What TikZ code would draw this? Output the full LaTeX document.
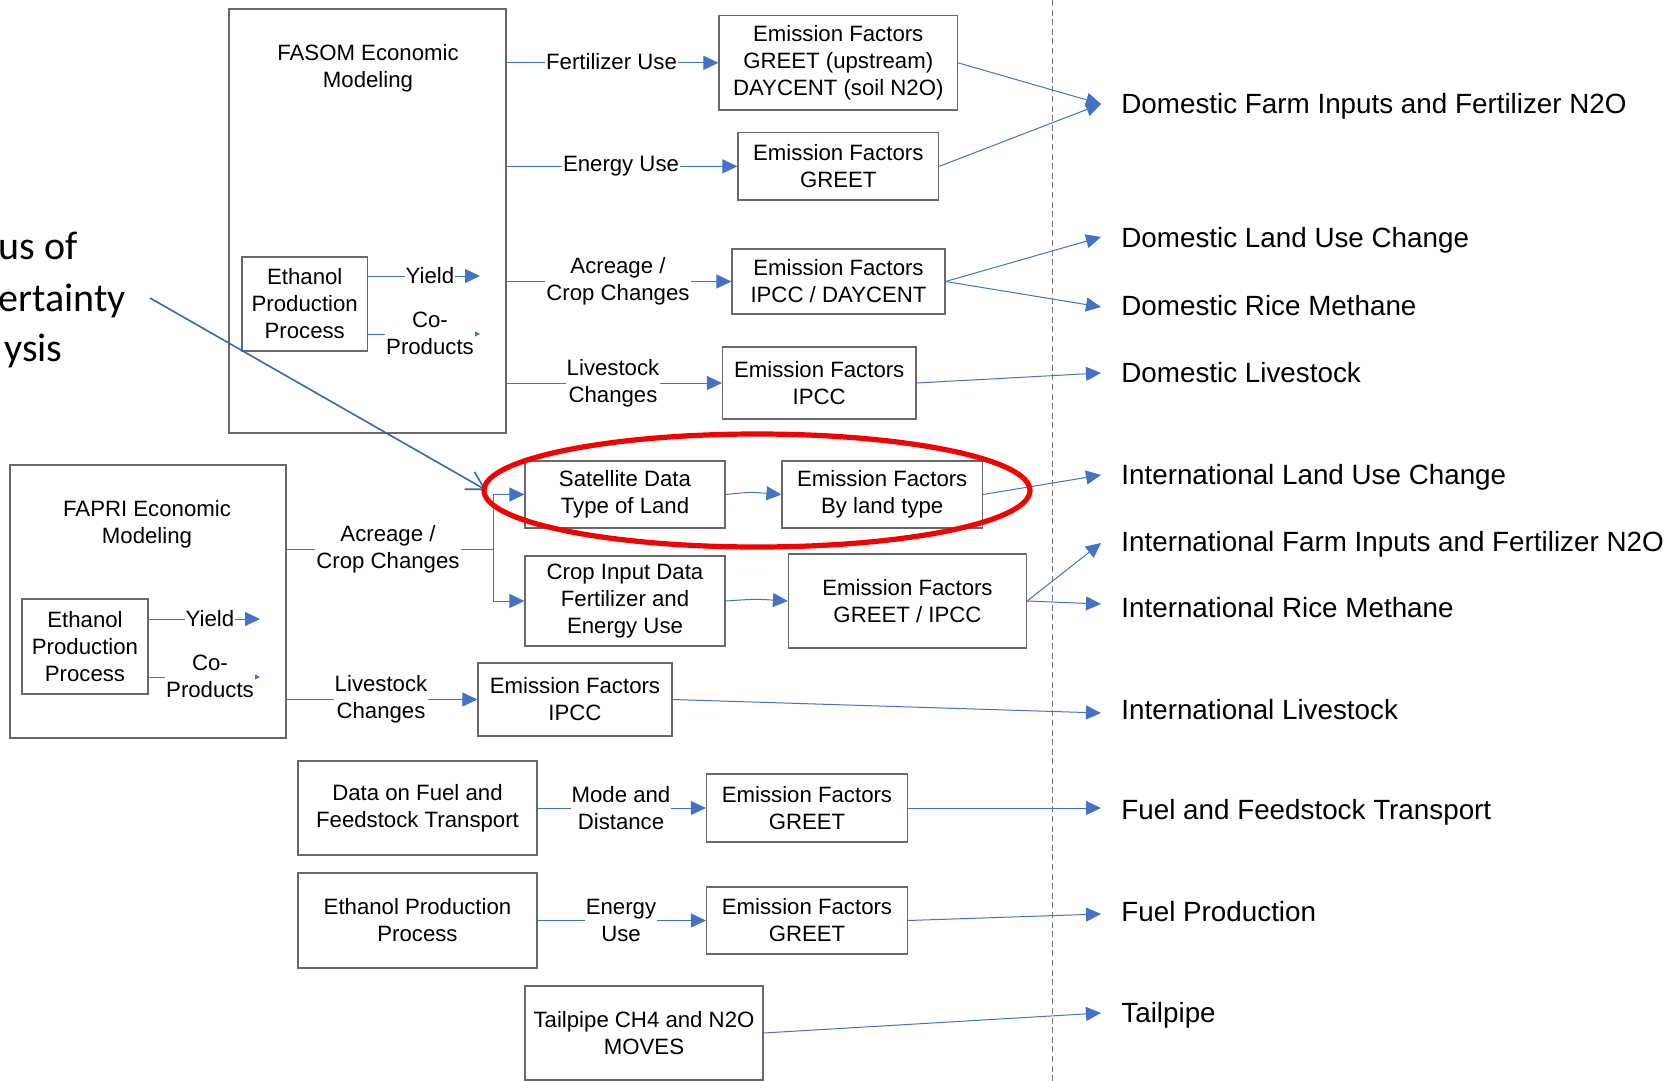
\documentclass[tikz,border=0pt]{standalone}
\usepackage{fontspec}
\setmainfont{Liberation Sans}
\newfontfamily\calloutfnt{Carlito}
\usetikzlibrary{arrows.meta}
\definecolor{conblue}{RGB}{68,114,196}
\definecolor{callblue}{RGB}{50,105,180}
\definecolor{boxgray}{RGB}{105,105,105}
\definecolor{dashgray}{RGB}{120,120,120}
\definecolor{ovalred}{RGB}{245,0,0}
\newcommand\boxfnt{\fontsize{11.1pt}{13.5pt}\selectfont}
\newcommand\outfnt{\fontsize{13.9pt}{16pt}\selectfont}
\newcommand\callfnt{\calloutfnt\fontsize{20pt}{25pt}\selectfont}
\begin{document}
\begin{tikzpicture}[x=0.5pt,y=-0.5pt,
  box/.style={draw=boxgray, line width=0.6pt, align=center, inner sep=0pt, font=\boxfnt},
  conn/.style={draw=conblue, line width=0.5pt},
  arr/.style={draw=conblue, line width=0.5pt, -{Triangle[length=7.5pt,width=7pt]}},
  smallarr/.style={draw=conblue, line width=0.5pt, -{Triangle[length=3pt,width=3pt]}},
  lbl/.style={fill=white, inner sep=0.5pt, align=center, font=\boxfnt},
  plain/.style={inner sep=0pt, align=center, font=\boxfnt},
  outlbl/.style={anchor=base west, inner sep=0pt, font=\outfnt},
  calltxt/.style={anchor=base east, inner sep=0pt, font=\callfnt}]
\useasboundingbox (0,0) rectangle (1677,1081);
\fill[white] (0,0) rectangle (1677,1081);

% dashed separator
\coordinate (dtop) at (1052,0);
\coordinate (dbot) at (1052,1081);
\draw[dashgray, line width=0.5pt, dash pattern=on 3pt off 1.8pt] (dtop) -- (dbot);

% callout text
\node[calltxt] (c1) at (78,259) {us of};
\node[calltxt] (c2) at (126,311) {ertainty};
\node[calltxt] (c3) at (63,361) {ysis};

% FASOM block
\node[box, minimum width=138.5pt, minimum height=212pt] (fasom) at (367.5,221) {};
\node[plain] (fasomtxt) at (368,68.5) {FASOM Economic\\Modeling};
\node[box, minimum width=62.75pt, minimum height=47pt] (eth1) at (304.75,304) {Ethanol\\Production\\Process};
\coordinate (y1tip) at (480,276);
\coordinate (c1tip) at (480,334);
\draw[arr] (eth1.east |- y1tip) -- (y1tip);
\draw[smallarr] (eth1.east |- c1tip) -- (c1tip);
\node[lbl] (yield1) at (430,276) {Yield};
\node[lbl] (cop1) at (430,333.5) {Co-\\Products};

\node[box, minimum width=119.25pt, minimum height=47.15pt] (ef1) at (838.25,62.85) {Emission Factors\\GREET (upstream)\\DAYCENT (soil N2O)};
\node[box, minimum width=100.3pt, minimum height=33.65pt] (ef2) at (838.3,166.35) {Emission Factors\\GREET};
\node[box, minimum width=106.5pt, minimum height=32.5pt] (ef3) at (838.5,281.5) {Emission Factors\\IPCC / DAYCENT};
\node[box, minimum width=96.75pt, minimum height=36pt] (ef4) at (819.25,383) {Emission Factors\\IPCC};

\draw[arr] (fasom.east |- ef1.west) -- (ef1.west);
\draw[arr] (fasom.east |- ef2.west) -- (ef2.west);
\draw[arr] (fasom.east |- ef3.west) -- (ef3.west);
\draw[arr] (fasom.east |- ef4.west) -- (ef4.west);
\node[lbl] (l1) at (611.5,61.5) {Fertilizer Use};
\node[lbl] (l2) at (621,166.35) {Energy Use};
\node[lbl] (l3) at (618,281.5) {Acreage /\\Crop Changes};
\node[lbl] (l4) at (613,383) {Livestock\\Changes};

% FAPRI block
\node[box, minimum width=138pt, minimum height=136.5pt] (fapri) at (148,601.5) {};
\node[plain] (fapritxt) at (147,524.5) {FAPRI Economic\\Modeling};
\node[box, minimum width=63pt, minimum height=47.5pt] (eth2) at (85,646.5) {Ethanol\\Production\\Process};
\coordinate (y2tip) at (260,619);
\coordinate (c2tip) at (260,677);
\draw[arr] (eth2.east |- y2tip) -- (y2tip);
\draw[smallarr] (eth2.east |- c2tip) -- (c2tip);
\node[lbl] (yield2) at (210,619) {Yield};
\node[lbl] (cop2) at (210,676.5) {Co-\\Products};

\node[box, minimum width=100pt, minimum height=33.5pt] (sat) at (625,494.5) {Satellite Data\\Type of Land};
\node[box, minimum width=100.25pt, minimum height=33.5pt] (efland) at (882.25,494.5) {Emission Factors\\By land type};
\node[box, minimum width=100pt, minimum height=45pt] (cropin) at (625,601) {Crop Input Data\\Fertilizer and\\Energy Use};
\node[box, minimum width=119pt, minimum height=47pt] (efgi) at (907.5,601) {Emission Factors\\GREET / IPCC};
\node[box, minimum width=97pt, minimum height=36.5pt] (ef5) at (575,699.5) {Emission Factors\\IPCC};

\coordinate (split) at (493,549);
\draw[conn] (fapri.east |- split) -- (split);
\draw[arr] (split) |- (sat.west);
\draw[arr] (split) |- (cropin.west);
\draw[arr] (sat.east) .. controls (750,492) .. (efland.west);
\draw[arr] (cropin.east) .. controls (755,599) .. (efgi.west);
\draw[arr] (fapri.east |- ef5.west) -- (ef5.west);
\node[lbl] (l5) at (388,549) {Acreage /\\Crop Changes};
\node[lbl] (l6) at (381,699.5) {Livestock\\Changes};

% transport / production / tailpipe
\node[box, minimum width=119.5pt, minimum height=47pt] (fuel) at (417.5,808) {Data on Fuel and\\Feedstock Transport};
\node[box, minimum width=100.5pt, minimum height=34pt] (ef6) at (807,808) {Emission Factors\\GREET};
\node[box, minimum width=119.5pt, minimum height=47.5pt] (ethp) at (417.5,920.5) {Ethanol Production\\Process};
\node[box, minimum width=100.5pt, minimum height=33.5pt] (ef7) at (807,920.5) {Emission Factors\\GREET};
\node[box, minimum width=119pt, minimum height=47pt] (tail) at (644,1033) {Tailpipe CH4 and N2O\\MOVES};
\draw[arr] (fuel.east) -- (ef6.west);
\draw[arr] (ethp.east) -- (ef7.west);
\node[lbl] (l7) at (621,808) {Mode and\\Distance};
\node[lbl] (l8) at (621,920.5) {Energy\\Use};

% output labels
\node[outlbl] (o1) at (1121,114) {Domestic Farm Inputs and Fertilizer N2O};
\node[outlbl] (o2) at (1121,248) {Domestic Land Use Change};
\node[outlbl] (o3) at (1121,315) {Domestic Rice Methane};
\node[outlbl] (o4) at (1121,382.5) {Domestic Livestock};
\node[outlbl] (o5) at (1121,484.5) {International Land Use Change};
\node[outlbl] (o6) at (1121,551) {International Farm Inputs and Fertilizer N2O};
\node[outlbl] (o7) at (1121,617.5) {International Rice Methane};
\node[outlbl] (o8) at (1121,719.5) {International Livestock};
\node[outlbl] (o9) at (1121,819) {Fuel and Feedstock Transport};
\node[outlbl] (o10) at (1121,921) {Fuel Production};
\node[outlbl] (o11) at (1121,1022.5) {Tailpipe};

\coordinate (t1) at (1101,104);
\coordinate (t2) at (1101,237);
\coordinate (t3) at (1101,307);
\coordinate (t4) at (1101,373);
\coordinate (t5) at (1101,475);
\coordinate (t6) at (1101,543);
\coordinate (t7) at (1101,604);
\coordinate (t8) at (1101,713);
\coordinate (t9) at (1101,808);
\coordinate (t10) at (1101,914);
\coordinate (t11) at (1101,1013);

\draw[arr] (ef1.east) -- (t1);
\draw[arr] (ef2.east) -- (t1);
\draw[arr] (ef3.east) -- (t2);
\draw[arr] (ef3.east) -- (t3);
\draw[arr] (ef4.east) -- (t4);
\draw[arr] (efland.east) -- (t5);
\draw[arr] (efgi.east) -- (t6);
\draw[arr] (efgi.east) -- (t7);
\draw[arr] (ef5.east) -- (t8);
\draw[arr] (ef6.east) -- (t9);
\draw[arr] (ef7.east) -- (t10);
\draw[arr] (tail.east) -- (t11);

% callout arrow
\coordinate (cstart) at (150,298);
\coordinate (ctip) at (486,490);
\draw[callblue, line width=0.8pt, -{Straight Barb[length=8.7pt,width=10pt]}] (cstart) -- (ctip);

% red oval
\coordinate (ovc) at (757,490.5);
\draw[ovalred, line width=2.6pt] (ovc) ellipse [x radius=136.5pt, y radius=28.25pt];
\end{tikzpicture}
\end{document}
